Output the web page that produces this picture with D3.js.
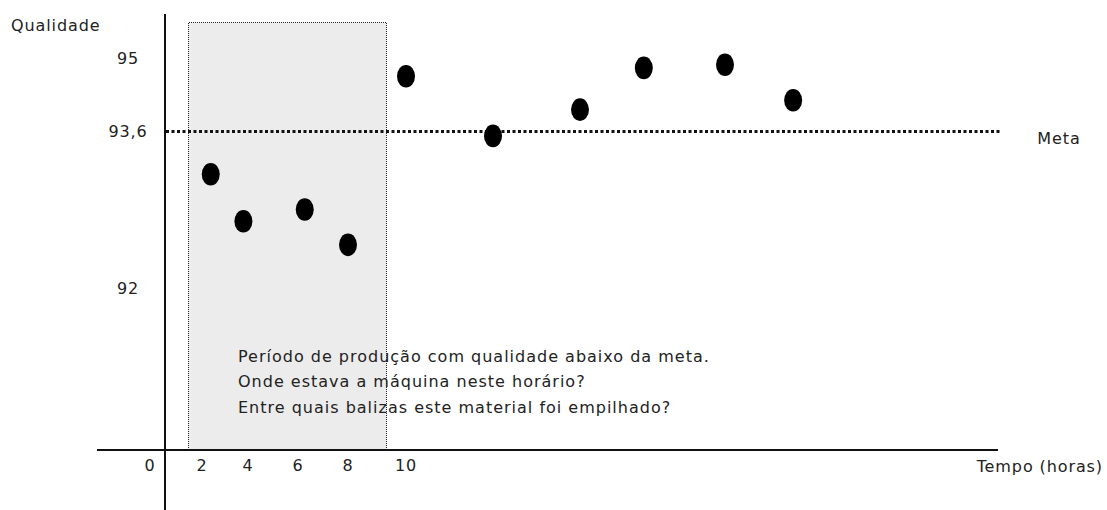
<!DOCTYPE html>
<html><head><meta charset="utf-8">
<script src="https://cdn.jsdelivr.net/npm/d3@7"></script>
<style>
body{margin:0;background:#fff}
text{font-family:"DejaVu Sans",sans-serif;font-size:16px;fill:#222;letter-spacing:0.9px}
</style>
</head><body><svg id="c" width="1107" height="510"></svg>
<script>
// ---- data ----
const times   = [2.38, 3.8, 6.27, 8, 10, 13, 16, 18.2, 21, 23.35];
const quality = [93.16, 92.68, 92.8, 92.44, 94.65, 93.55, 94.01, 94.81, 94.87, 94.19];
const xTickValues = [0, 2, 4, 6, 8, 10];
const yTickValues = [95, 93.6, 92];
const yTickLabels = ["95", "93,6", "92"];
const metaValue = 93.6;
const metaLabel = "Meta";
const belowPeriod = [1.45, 9.3];
const periodTop = 95.7;
const yTitle = "Qualidade";
const xTitle = "Tempo (horas)";
const annotationLines = [
  "Período de produção com qualidade abaixo da meta.",
  "Onde estava a máquina neste horário?",
  "Entre quais balizas este material foi empilhado?"
];

// ---- layout ----
const svg = d3.select("#c");
const x = d3.scaleLinear()
  .domain([0, 2, 4, 6, 8, 10, 30])
  .range([150, 202, 248, 298, 348, 406, 986]);
const y = d3.scaleLinear()
  .domain([92, 93.6, 95, 96])
  .range([288, 131, 58, 5.86]);
const axisX = 165, axisY = 450;

const px0 = Math.round(x(belowPeriod[0])) + 0.5;
const px1 = Math.round(x(belowPeriod[1])) + 0.5;
const py0 = Math.round(y(periodTop)) + 0.5;

// shaded period
svg.append("rect")
  .attr("x", px0).attr("y", py0)
  .attr("width", px1 - px0).attr("height", axisY - py0)
  .attr("fill", "#ececec");

// annotation
const ann = svg.append("text").attr("x", 238).attr("y", 356).attr("style", "letter-spacing:1px");
annotationLines.forEach((t, i) => {
  ann.append("tspan").attr("x", 238).attr("y", 356 + i * 25.5).attr("dy", "0.35em").text(t);
});

// shaded border (dotted)
svg.append("path")
  .attr("d", `M${px0},${axisY}V${py0}H${px1}V${axisY}`)
  .attr("fill", "none").attr("stroke", "#222").attr("stroke-width", 1)
  .attr("stroke-dasharray", "1,1").attr("shape-rendering", "crispEdges");

// axes lines
svg.append("line").attr("x1", axisX).attr("x2", axisX).attr("y1", 14).attr("y2", 510)
  .attr("stroke", "#111").attr("stroke-width", 2);
svg.append("line").attr("x1", 97).attr("x2", 998).attr("y1", axisY).attr("y2", axisY)
  .attr("stroke", "#111").attr("stroke-width", 2);

// meta line
svg.append("line").attr("x1", axisX + 1).attr("x2", 1000)
  .attr("y1", y(metaValue) + 0.5).attr("y2", y(metaValue) + 0.5)
  .attr("stroke", "#111").attr("stroke-width", 3).attr("stroke-dasharray", "3,2.5");
svg.append("text").attr("x", 1059).attr("y", y(metaValue) + 7).attr("dy", "0.35em")
  .attr("text-anchor", "middle").text(metaLabel);

// y ticks
svg.selectAll(".ytick").data(yTickValues).join("text").attr("class", "ytick")
  .attr("x", 128).attr("y", d => y(d)).attr("dy", "0.35em").attr("text-anchor", "middle")
  .text((d, i) => yTickLabels[i]);

// x ticks
svg.selectAll(".xtick").data(xTickValues).join("text").attr("class", "xtick")
  .attr("x", d => x(d)).attr("y", 465).attr("dy", "0.35em").attr("text-anchor", "middle")
  .text(d => d);

// titles
svg.append("text").attr("x", 11).attr("y", 25).attr("dy", "0.35em").text(yTitle);
svg.append("text").attr("x", 1103).attr("y", 466).attr("dy", "0.35em")
  .attr("text-anchor", "end").text(xTitle);

// points
svg.selectAll(".pt").data(times).join("ellipse").attr("class", "pt")
  .attr("cx", d => x(d)).attr("cy", (d, i) => y(quality[i]))
  .attr("rx", 9).attr("ry", 11.3).attr("fill", "#000");
</script>
</body></html>
